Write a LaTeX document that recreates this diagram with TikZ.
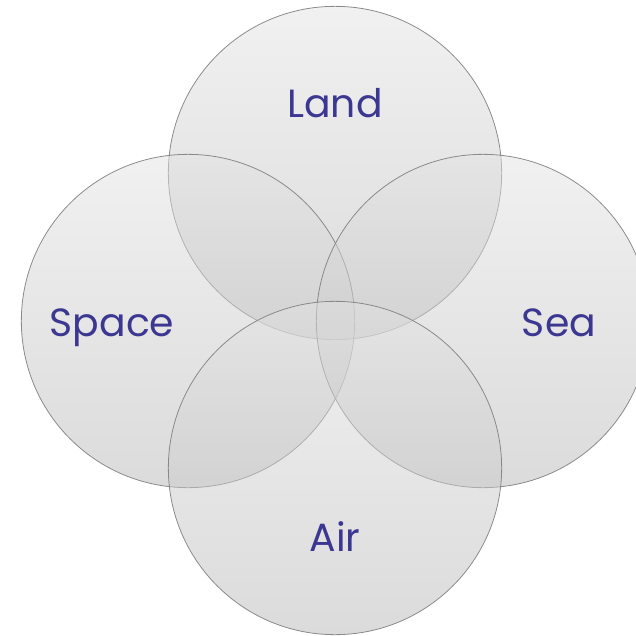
\documentclass[tikz,border=0pt]{standalone}
\usepackage{fontspec}
\setmainfont{Poppins}
\usetikzlibrary{positioning}
\definecolor{labelblue}{RGB}{60,55,145}

\begin{document}
\begin{tikzpicture}[x=0.75pt, y=-0.75pt,
                area/.style={circle, draw=black!50, line width=0.6pt, minimum size=250pt, inner sep=0pt,
                    top color=black!11, bottom color=black!28, fill opacity=0.5, draw opacity=0.9},
                areatext/.style={text=labelblue, font=\fontsize{29.5}{32}\selectfont, inner sep=0pt, anchor=base}
            ]
            \useasboundingbox (0,0) rectangle (636,636);
            \clip (0,0) rectangle (636,636);
            \node (Land) [area] at (335,173) {};
            \node (Space) [area] at (188,321) {};
            \node (Sea) [area] at (483,321) {};
            \node (Air) [area] at (335,468) {};
            % labels sit towards the outer side of each circle
            \node (LandText) [areatext] at (335,117) {Land};
            \node (SpaceText) [areatext] at (112,336) {Space};
            \node (SeaText) [areatext] at (559,336) {Sea};
            \node (AirText) [areatext] at (335,551) {Air};
\end{tikzpicture}
\end{document}
